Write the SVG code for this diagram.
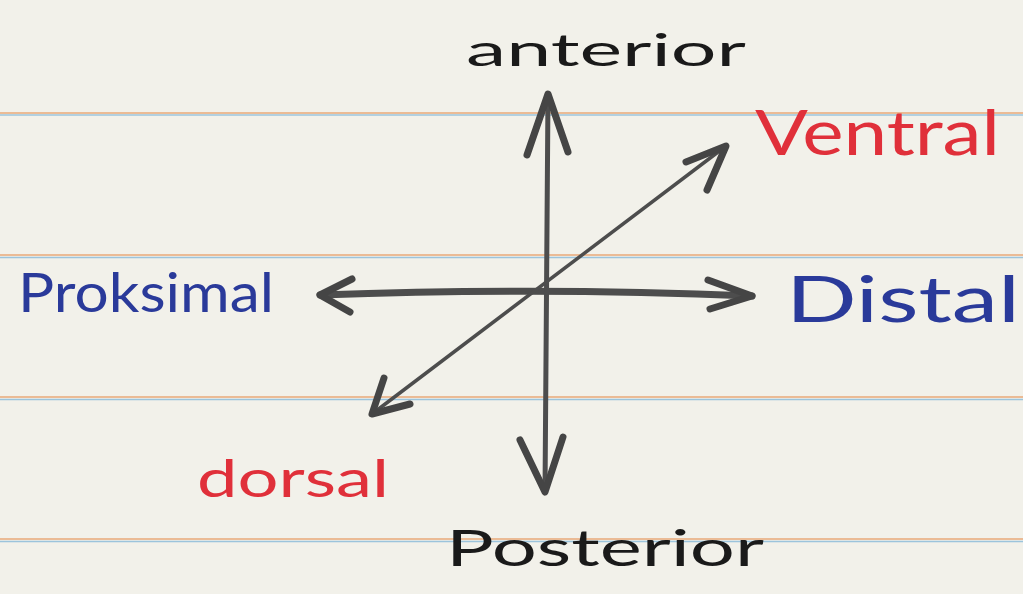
<svg xmlns="http://www.w3.org/2000/svg" width="1023" height="594" viewBox="0 0 1023 594">
<style>
.rule-o{stroke:#e8a878;stroke-width:1.5}
.rule-b{stroke:#9cc4dc;stroke-width:1.5}
.ax{stroke:#4d4d4d;fill:none;stroke-linecap:round;stroke-linejoin:round}
.head{stroke:#454545;fill:none;stroke-width:7;stroke-linecap:round;stroke-linejoin:round}
.lbl{font-family:"Lato","Liberation Sans",sans-serif;font-weight:400}
.blk{fill:#1a1a1a}
.red{fill:#e0303a}
.blu{fill:#2a3a9a}
</style>
<rect width="1023" height="594" fill="#f2f1ea"/>
<g id="paper">
<line class="rule-o" x1="0" y1="113" x2="1023" y2="113"/><line class="rule-b" x1="0" y1="115" x2="1023" y2="115"/>
<line class="rule-o" x1="0" y1="255" x2="1023" y2="255"/><line class="rule-b" x1="0" y1="257.5" x2="1023" y2="257.5"/>
<line class="rule-o" x1="0" y1="397" x2="1023" y2="397"/><line class="rule-b" x1="0" y1="399.5" x2="1023" y2="399.5"/>
<line class="rule-o" x1="0" y1="539" x2="1023" y2="539"/><line class="rule-b" x1="0" y1="541.5" x2="1023" y2="541.5"/>
</g>
<g id="connectors">
<path class="ax" stroke-width="7" d="M320 295 Q545 287 752 296"/>
<path class="head" d="M352 279 L320 295 L350 312"/>
<path class="head" d="M708 280 L752 296 L710 309"/>
<path class="ax" stroke-width="5" d="M548 94 L545 492"/>
<path class="head" d="M527 155 L548 94 L568 152"/>
<path class="head" d="M520 440 L545 492 L563 437"/>
<path class="ax" stroke-width="3.5" d="M372 414 L726 146"/>
<path class="head" d="M384 378 L372 414 L410 404"/>
<path class="head" d="M686 162 L726 146 L707 190"/>
</g>
<g id="anterior"><text class="lbl blk" x="466" y="66" font-size="44" textLength="280" lengthAdjust="spacingAndGlyphs">anterior</text></g>
<g id="ventral"><text class="lbl red" x="755" y="155" font-size="62" textLength="245" lengthAdjust="spacingAndGlyphs">Ventral</text></g>
<g id="proksimal"><text class="lbl blu" x="18" y="312" font-size="54" textLength="256" lengthAdjust="spacingAndGlyphs">Proksimal</text></g>
<g id="distal"><text class="lbl blu" x="786" y="322" font-size="64" textLength="234" lengthAdjust="spacingAndGlyphs">Distal</text></g>
<g id="dorsal"><text class="lbl red" x="197" y="497" font-size="52" textLength="192" lengthAdjust="spacingAndGlyphs">dorsal</text></g>
<g id="posterior"><text class="lbl blk" x="446" y="566" font-size="50" textLength="318" lengthAdjust="spacingAndGlyphs">Posterior</text></g>
</svg>
